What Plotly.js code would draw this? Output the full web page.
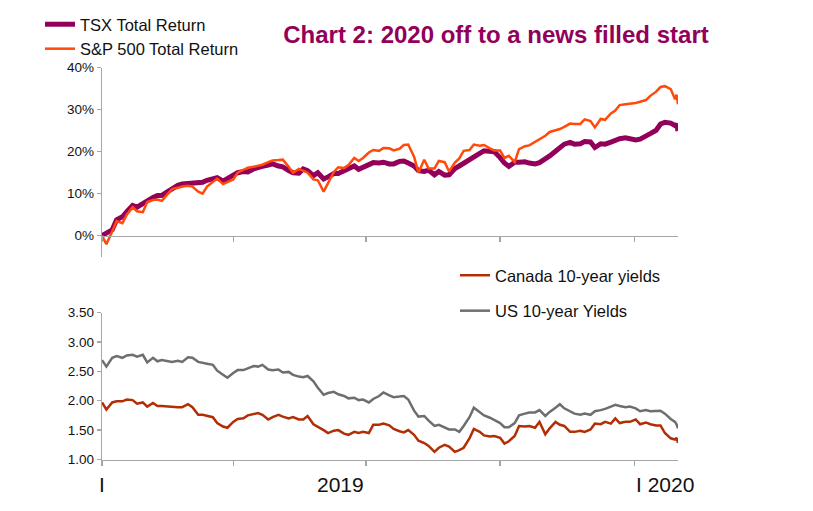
<!DOCTYPE html>
<html>
<head>
<meta charset="utf-8">
<script src="https://cdn.plot.ly/plotly-3.0.1.min.js"></script>
<style>html,body{margin:0;padding:0;background:#fff;}#chart{width:813px;height:511px;}</style>
</head>
<body>
<div id="chart"></div>
<script>
const dates = [
"2019-01-01","2019-01-04","2019-01-08","2019-01-11","2019-01-15","2019-01-18","2019-01-22","2019-01-25","2019-01-29","2019-02-01",
"2019-02-05","2019-02-08","2019-02-11","2019-02-15","2019-02-18","2019-02-22","2019-02-25","2019-03-01","2019-03-04","2019-03-08",
"2019-03-11","2019-03-14","2019-03-18","2019-03-21","2019-03-25","2019-03-28","2019-04-01","2019-04-04","2019-04-08","2019-04-11",
"2019-04-15","2019-04-18","2019-04-21","2019-04-25","2019-04-28","2019-05-02","2019-05-05","2019-05-09","2019-05-12","2019-05-16",
"2019-05-19","2019-05-22","2019-05-26","2019-05-29","2019-06-02","2019-06-05","2019-06-09","2019-06-12","2019-06-16","2019-06-19",
"2019-06-23","2019-06-26","2019-06-29","2019-07-03","2019-07-06","2019-07-10","2019-07-13","2019-07-17","2019-07-20","2019-07-24",
"2019-07-27","2019-07-30","2019-08-03","2019-08-06","2019-08-10","2019-08-13","2019-08-17","2019-08-20","2019-08-24","2019-08-27",
"2019-08-31","2019-09-03","2019-09-06","2019-09-10","2019-09-13","2019-09-17","2019-09-20","2019-09-24","2019-09-27","2019-10-01",
"2019-10-04","2019-10-07","2019-10-11","2019-10-14","2019-10-18","2019-10-21","2019-10-25","2019-10-28","2019-11-01","2019-11-04",
"2019-11-08","2019-11-11","2019-11-14","2019-11-18","2019-11-21","2019-11-25","2019-11-28","2019-12-02","2019-12-05","2019-12-09",
"2019-12-12","2019-12-16","2019-12-19","2019-12-22","2019-12-26","2019-12-29","2020-01-02","2020-01-05","2020-01-09","2020-01-12",
"2020-01-16","2020-01-19","2020-01-22","2020-01-26","2020-01-29","2020-01-30","2020-01-31"
];

// Cumulative total return, %
const tsxReturn = [
0, 0.6, 1.4, 3.8, 4.5, 5.7, 7.2, 6.8, 7.7, 8.5,
9.1, 9.6, 9.6, 10.5, 11.3, 12.0, 12.3, 12.5, 12.6, 12.6,
12.7, 13.2, 13.6, 13.8, 13.0, 13.6, 14.3, 15.0, 15.3, 15.2,
15.9, 16.3, 16.5, 16.8, 17.1, 16.6, 16.4, 15.5, 15.0, 14.9,
15.9, 15.5, 14.3, 15.0, 13.5, 14.0, 14.8, 14.8, 15.4, 16.0,
16.6, 15.8, 16.3, 17.0, 17.4, 17.3, 17.5, 17.1, 17.1, 17.7,
17.8, 17.3, 16.6, 15.5, 15.3, 15.6, 14.5, 15.3, 14.4, 14.5,
16.0, 16.6, 17.3, 17.9, 18.7, 19.6, 20.2, 20.2, 20.0, 18.6,
17.3, 16.5, 17.5, 17.5, 17.6, 17.3, 17.1, 17.4, 18.2, 19.0,
20.1, 21.0, 21.8, 22.2, 21.8, 21.9, 22.4, 22.3, 21.0, 21.9,
21.8, 22.3, 22.7, 23.1, 23.3, 23.2, 22.8, 23.0, 23.6, 24.3,
25.1, 26.6, 27.0, 26.8, 26.2, 26.6, 24.9
];
const spReturn = [
0, -2.0, 1.0, 3.5, 3.0, 5.0, 6.8, 5.8, 5.6, 8.0,
8.5, 8.6, 8.3, 10.0, 11.1, 11.4, 11.7, 11.9, 11.7, 10.5,
10.0, 11.7, 12.8, 13.6, 12.3, 12.7, 13.4, 15.0, 15.6, 16.2,
16.4, 16.6, 16.9, 17.5, 17.9, 18.0, 18.1, 16.4, 15.0, 15.9,
15.4, 15.0, 13.4, 13.2, 10.5, 12.5, 15.2, 16.3, 16.1, 16.8,
18.5, 17.8, 18.5, 19.8, 20.4, 20.2, 20.9, 20.8, 20.3, 20.7,
21.6, 21.7, 18.8, 15.0, 18.1, 16.0, 16.0, 17.8, 17.5, 15.3,
17.4, 18.4, 20.2, 20.4, 21.7, 21.4, 21.6, 20.8, 20.3, 20.3,
18.5, 19.0, 17.5, 20.6, 21.3, 21.5, 22.3, 22.9, 23.8, 24.7,
25.0, 25.4, 25.9, 26.7, 26.6, 26.6, 27.7, 27.3, 25.8, 27.8,
27.6, 29.1, 29.8, 31.1, 31.3, 31.4, 31.6, 31.9, 32.3, 33.3,
34.3, 35.4, 35.6, 34.9, 32.5, 33.6, 31.3
];

// 10-year yields, %
const cadYield = [
1.97, 1.85, 1.97, 1.99, 1.99, 2.02, 2.01, 1.95, 1.97, 1.90,
1.96, 1.91, 1.91, 1.90, 1.90, 1.89, 1.89, 1.94, 1.89, 1.76,
1.76, 1.74, 1.72, 1.62, 1.56, 1.54, 1.64, 1.69, 1.70, 1.75,
1.77, 1.79, 1.76, 1.68, 1.72, 1.76, 1.73, 1.70, 1.72, 1.68,
1.68, 1.74, 1.60, 1.56, 1.50, 1.45, 1.49, 1.50, 1.44, 1.42,
1.47, 1.45, 1.47, 1.45, 1.59, 1.59, 1.61, 1.58, 1.52, 1.48,
1.46, 1.50, 1.42, 1.32, 1.28, 1.23, 1.13, 1.20, 1.25, 1.22,
1.13, 1.16, 1.20, 1.36, 1.52, 1.47, 1.41, 1.39, 1.40, 1.37,
1.27, 1.31, 1.40, 1.57, 1.56, 1.57, 1.54, 1.64, 1.43, 1.53,
1.64, 1.59, 1.57, 1.47, 1.47, 1.49, 1.47, 1.51, 1.61, 1.60,
1.64, 1.61, 1.70, 1.62, 1.64, 1.64, 1.68, 1.60, 1.63, 1.60,
1.58, 1.58, 1.45, 1.36, 1.34, 1.37, 1.28
];
const usYield = [
2.69, 2.58, 2.73, 2.76, 2.73, 2.77, 2.78, 2.75, 2.78, 2.65,
2.73, 2.67, 2.69, 2.67, 2.66, 2.68, 2.66, 2.74, 2.73, 2.66,
2.65, 2.63, 2.61, 2.51, 2.44, 2.39, 2.47, 2.52, 2.52, 2.55,
2.59, 2.58, 2.61, 2.53, 2.52, 2.53, 2.48, 2.49, 2.44, 2.41,
2.40, 2.42, 2.33, 2.22, 2.10, 2.13, 2.15, 2.11, 2.08, 2.04,
2.05, 2.01, 2.02, 1.97, 2.03, 2.08, 2.14, 2.09, 2.06, 2.07,
2.08, 2.02, 1.83, 1.73, 1.74, 1.66, 1.57, 1.59, 1.55, 1.51,
1.51, 1.47, 1.57, 1.72, 1.88, 1.81, 1.75, 1.71, 1.67, 1.62,
1.55, 1.55, 1.62, 1.75, 1.78, 1.80, 1.80, 1.84, 1.74, 1.81,
1.88, 1.94, 1.87, 1.82, 1.78, 1.76, 1.78, 1.76, 1.82, 1.84,
1.86, 1.90, 1.93, 1.91, 1.89, 1.90, 1.87, 1.82, 1.84, 1.82,
1.83, 1.83, 1.78, 1.69, 1.64, 1.60, 1.53
];

const seriesNames = ["TSX Total Return", "S&P 500 Total Return", "Canada 10-year yields", "US 10-year Yields"];
const xTickVals = ["2019-01-01", "2019-04-01", "2019-07-01", "2019-10-01", "2020-01-01"];
const retTicks = [0, 10, 20, 30, 40];
const retTickText = ["0%", "10%", "20%", "30%", "40%"];
const yldTicks = [1.0, 1.5, 2.0, 2.5, 3.0, 3.5];
const yldTickText = ["1.00", "1.50", "2.00", "2.50", "3.00", "3.50"];

const AX = '#A6A6A6';
const FONT = 'Liberation Sans, Arial, sans-serif';
const H = 511;
const py = px => 1 - px / H;

const traces = [
  {x: dates, y: tsxReturn, name: seriesNames[0], type: 'scatter', mode: 'lines', xaxis: 'x', yaxis: 'y',
   line: {color: '#93005A', width: 5}, legend: 'legend', legendgroup: 'a'},
  {x: dates, y: spReturn, name: seriesNames[1], type: 'scatter', mode: 'lines', xaxis: 'x', yaxis: 'y',
   line: {color: '#FF4A0A', width: 2.5}, legend: 'legend', legendgroup: 'b'},
  {x: dates, y: cadYield, name: seriesNames[2], type: 'scatter', mode: 'lines', xaxis: 'x2', yaxis: 'y2',
   line: {color: '#B22E05', width: 2.5}, legend: 'legend2', legendgroup: 'c'},
  {x: dates, y: usYield, name: seriesNames[3], type: 'scatter', mode: 'lines', xaxis: 'x2', yaxis: 'y2',
   line: {color: '#6D6E71', width: 2.5}, legend: 'legend2', legendgroup: 'd'}
];

const layout = {
  width: 813, height: 511,
  margin: {l: 102, r: 135, t: 0, b: 0},
  paper_bgcolor: '#fff', plot_bgcolor: 'rgba(0,0,0,0)',
  font: {family: FONT, color: '#111', size: 13.5},
  title: {text: '<b>Chart 2: 2020 off to a news filled start</b>', font: {family: FONT, size: 24, color: '#93005A'},
          xref: 'container', yref: 'container', x: 496 / 813, xanchor: 'center', y: py(35), yanchor: 'middle'},
  xaxis: {type: 'date', range: ['2019-01-01', '2020-01-31'], domain: [0, 1], anchor: 'free', position: py(235.7),
          showline: true, linecolor: AX, linewidth: 1.3, ticks: 'outside', ticklen: 5, tickcolor: AX, tickwidth: 1.3,
          tickmode: 'array', tickvals: xTickVals, showticklabels: false, showgrid: false, zeroline: false},
  yaxis: {domain: [py(256.7), py(67.7)], range: [-5, 40], tickmode: 'array', tickvals: retTicks, ticktext: retTickText,
          showline: true, linecolor: AX, linewidth: 1.3, ticks: 'outside', ticklen: 4, tickcolor: AX, tickwidth: 1.3,
          showgrid: false, zeroline: false, tickfont: {size: 13.5, color: '#111'}},
  xaxis2: {type: 'date', range: ['2019-01-01', '2020-01-31'], domain: [0, 1], anchor: 'y2',
          showline: true, linecolor: AX, linewidth: 1.3, ticks: 'outside', ticklen: 5, tickcolor: AX, tickwidth: 1.3,
          tickmode: 'array', tickvals: xTickVals, showticklabels: false, showgrid: false, zeroline: false},
  yaxis2: {domain: [py(459.5), py(312.5)], range: [1, 3.5], anchor: 'x2', tickmode: 'array', tickvals: yldTicks, ticktext: yldTickText,
          showline: true, linecolor: AX, linewidth: 1.3, ticks: 'outside', ticklen: 4, tickcolor: AX, tickwidth: 1.3,
          showgrid: false, zeroline: false, tickfont: {size: 13.5, color: '#111'}},
  legend: {x: (40 - 102) / 576, xanchor: 'left', y: py(7), yanchor: 'top', bgcolor: 'rgba(0,0,0,0)',
           font: {family: FONT, size: 16.5, color: '#111'}, tracegroupgap: 0, traceorder: 'grouped'},
  legend2: {x: (455 - 102) / 576, xanchor: 'left', y: py(258), yanchor: 'top', bgcolor: 'rgba(0,0,0,0)',
           font: {family: FONT, size: 16.5, color: '#111'}, tracegroupgap: 11, traceorder: 'grouped'},
  annotations: [
    {text: 'I', x: '2019-01-01', xref: 'x2', y: py(484), yref: 'paper', showarrow: false, xanchor: 'center', yanchor: 'middle',
     font: {family: FONT, size: 21, color: '#111'}},
    {text: '2019', x: '2019-07-01', xref: 'x2', y: py(484), yref: 'paper', showarrow: false, xanchor: 'right', yanchor: 'middle',
     font: {family: FONT, size: 21, color: '#111'}},
    {text: 'I 2020', x: '2020-01-01', xref: 'x2', y: py(484), yref: 'paper', showarrow: false, xanchor: 'left', yanchor: 'middle',
     font: {family: FONT, size: 21, color: '#111'}}
  ],
  showlegend: true
};

Plotly.newPlot('chart', traces, layout, {staticPlot: true, displayModeBar: false});
</script>
</body>
</html>
